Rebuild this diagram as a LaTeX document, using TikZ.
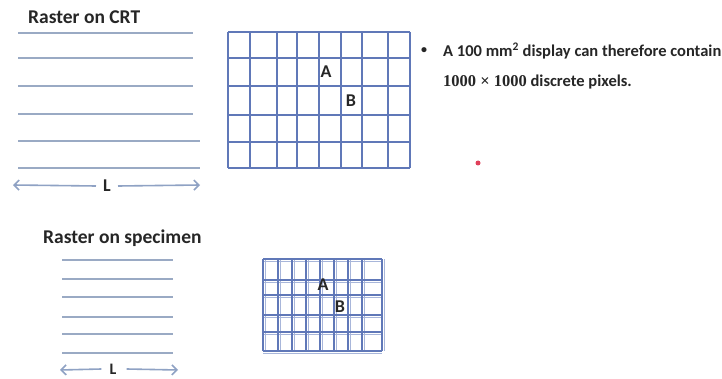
\documentclass[tikz,border=0pt]{standalone}
\usepackage{fontspec}
\setmainfont{Carlito}
\newfontfamily\numfont{Liberation Serif}
\usetikzlibrary{arrows.meta}
\definecolor{rasterc}{HTML}{9AAAC4}
\definecolor{gridc}{HTML}{6078B8}
\definecolor{gridl}{HTML}{A8B6DA}
\definecolor{arrowc}{HTML}{8FA2C4}
\definecolor{dotc}{HTML}{E0405A}
\tikzset{
  rasterline/.style={draw=rasterc, line width=2pt},
  gridline/.style={draw=gridc, line width=1.3pt},
  smallgrid/.style={draw=gridc, line width=1.1pt},
  smallgridb/.style={draw=gridl, line width=0.9pt},
  lenarrow/.style={draw=arrowc, line width=1.6pt, -{Straight Barb[length=5pt,width=10pt]}},
  title/.style={font=\bfseries\fontsize{19.5}{22}\selectfont, anchor=west, inner sep=0pt, text=black!85},
  lbl/.style={font=\bfseries\fontsize{18}{20}\selectfont, inner sep=0pt, text=black!85},
  body/.style={font=\bfseries\fontsize{16.5}{18}\selectfont, anchor=west, inner sep=0pt, text=black!85}
}
\begin{document}
\begin{tikzpicture}[x=1pt,y=-1pt]
\useasboundingbox[fill=white] (0,0) rectangle (722,379);
% titles
\node[title] (t1) at (28,17) {Raster on CRT};
\node[title] (t2) at (43,238) {Raster on specimen};
% CRT raster lines
\foreach \y/\xe in {33/193,58/193,86/193,114/193,141/200,168/200}
  \draw[rasterline] (18,\y) -- (\xe,\y);
% CRT length arrow
\node[lbl] (L1) at (107,186) {L};
\coordinate (a1l) at (13,185);
\coordinate (a1r) at (200,185);
\draw[lenarrow] (L1.west) ++(-7,0) -- (a1l);
\draw[lenarrow] (L1.east) ++(7,0) -- (a1r);
% CRT grid
\foreach \x in {228,250,277,297,319,341,362,388,410}
  \draw[gridline] (\x,32) -- (\x,168);
\foreach \y in {32,58,86,115,142,168}
  \draw[gridline] (228,\y) -- (410,\y);
\node[lbl] (A1) at (326,72) {A};
\node[lbl] (B1) at (351,101) {B};
% bullet text
\node[body] (bul) at (421,51) {\fontsize{12}{14}\selectfont •};
\node[body] (l1) at (443,51) {A 100 mm\textsuperscript{2} display can therefore contain};
\node[body] (l2) at (443,82) {{\numfont 1000 × 1000} discrete pixels.};
% red dot
\fill[dotc] (478,163) circle (2.5);
% specimen raster lines
\foreach \y in {260,279,297,317,334,353}
  \draw[rasterline] (62,\y) -- (173,\y);
\node[lbl, font=\bfseries\fontsize{16}{18}\selectfont] (L2) at (113,369) {L};
\coordinate (a2l) at (60,370);
\coordinate (a2r) at (178,370);
\draw[lenarrow] (L2.west) ++(-8,0) -- (a2l);
\draw[lenarrow] (L2.east) ++(10,0) -- (a2r);
% specimen grid (doubled lines)
\foreach \x in {263,278,292,306,320,334,348,362,382}
  \draw[smallgridb] (\x+2.5,259) -- (\x+2.5,351);
\foreach \y in {259,280,295,315,332,351}
  \draw[smallgridb] (263,\y+2.5) -- (382,\y+2.5);
\foreach \x in {263,278,292,306,320,334,348,362,382}
  \draw[smallgrid] (\x,259) -- (\x,351);
\foreach \y in {259,280,295,315,332,351}
  \draw[smallgrid] (263,\y) -- (382,\y);
\node[lbl] (A2) at (323,285) {A};
\node[lbl] (B2) at (340,307) {B};
\end{tikzpicture}
\end{document}
